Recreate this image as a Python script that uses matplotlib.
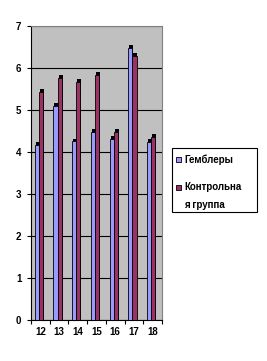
import matplotlib.pyplot as plt
from matplotlib.patches import Rectangle
import numpy as np

# data
categories = ["12", "13", "14", "15", "16", "17", "18"]
gamblers = [4.17, 5.10, 4.26, 4.48, 4.32, 6.48, 4.24]
control = [5.44, 5.77, 5.67, 5.84, 4.48, 6.29, 4.36]
series_names = ["Гемблеры", "Контрольна", "я группа"]

blue = "#9999FF"
red = "#993366"

plt.rcParams["font.family"] = ["Liberation Sans", "DejaVu Sans"]

fig = plt.figure(figsize=(2.67, 3.61), dpi=100)
ax = fig.add_axes([31 / 267, 41 / 361, 131 / 267, 294 / 361])
ax.set_facecolor("#C0C0C0")

x = np.arange(len(categories))
w = 0.22
shift = -0.08
dx, dy = 0.05, 0.06

for vals, off, col in [(gamblers, -w / 2, blue), (control, w / 2, red)]:
    # black "3d" depth behind each bar
    ax.bar(x + off + shift + dx, vals, width=w, bottom=0, color="black", zorder=2)
    ax.bar(x + off + shift + dx, dy, width=w, bottom=np.array(vals),
           color="black", zorder=2)
    ax.bar(x + off + shift, vals, width=w, color=col, edgecolor="black",
           linewidth=0.6, zorder=3)

ax.set_xlim(-0.5, len(categories) - 0.5)
ax.set_ylim(0, 7)
ax.set_yticks(range(0, 8))
ax.set_xticks(x)
ax.set_xticklabels(categories)
ax.set_xticks(np.arange(-0.5, len(categories)), minor=True)
ax.tick_params(axis="x", which="major", length=0, pad=5)
ax.tick_params(axis="x", which="minor", length=3, width=0.8, direction="out")
ax.tick_params(axis="y", length=3, width=0.8, direction="out", pad=4)
for lab in ax.get_xticklabels() + ax.get_yticklabels():
    lab.set_fontsize(7)
    lab.set_fontweight("bold")

ax.grid(axis="y", color="black", linewidth=0.8, zorder=1)
ax.set_axisbelow(True)
ax.spines["left"].set_color("black")
ax.spines["bottom"].set_color("black")
ax.spines["right"].set_color("#808080")
ax.spines["top"].set_color("#808080")

# legend drawn by hand (pixel positions from the reference)
W, H = 267, 361
fig.patches.append(Rectangle((172 / W, 1 - 212 / H), 85 / W, 64 / H,
                             transform=fig.transFigure, facecolor="white",
                             edgecolor="black", linewidth=0.8))
for ytop, col in [(157, blue), (185, red)]:
    fig.patches.append(Rectangle((176 / W, 1 - (ytop + 5) / H), 5 / W, 5 / H,
                                 transform=fig.transFigure, facecolor=col,
                                 edgecolor="black", linewidth=0.6))
for yc, name in [(159.5, series_names[0]), (187.5, series_names[1]),
                 (204.5, series_names[2])]:
    fig.text(184 / W, 1 - yc / H, name, fontsize=7, fontweight="bold",
             va="center", ha="left")

fig.savefig("out.png", dpi=100)
